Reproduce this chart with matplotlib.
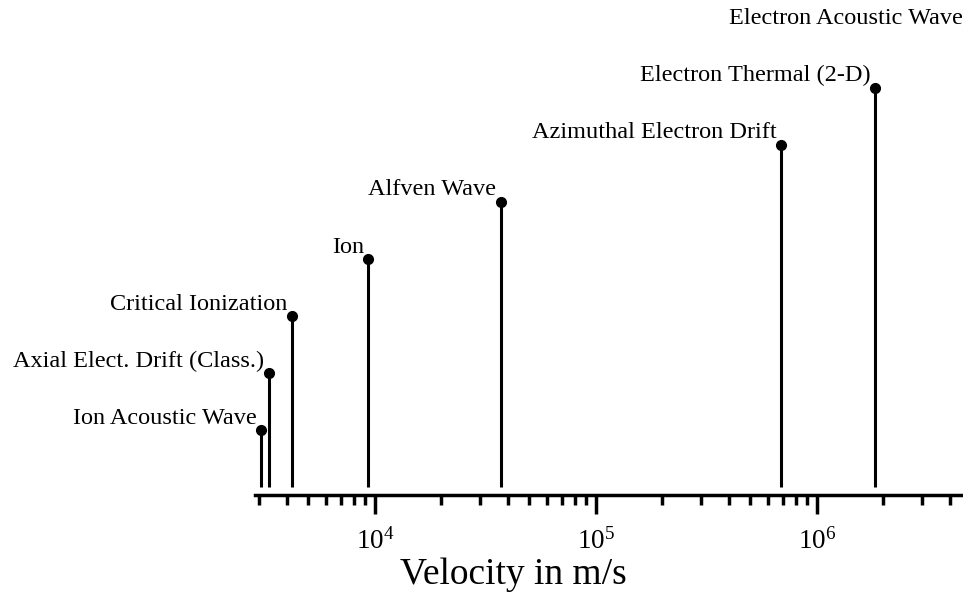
import math
import matplotlib
matplotlib.use("Agg")
import matplotlib.pyplot as plt
from matplotlib.ticker import LogLocator, FuncFormatter, NullFormatter

plt.rcParams["font.family"] = ["Liberation Serif", "DejaVu Serif"]
plt.rcParams["mathtext.fontset"] = "custom"
plt.rcParams["mathtext.rm"] = "Liberation Serif"
plt.rcParams["mathtext.it"] = "Liberation Serif:italic"

# Characteristic velocities (m/s), ordered by magnitude
labels = [
    "Ion Acoustic Wave",
    "Axial Elect. Drift (Class.)",
    "Critical Ionization",
    "Ion",
    "Alfven Wave",
    "Azimuthal Electron Drift",
    "Electron Thermal (2-D)",
    "Electron Acoustic Wave",
]
velocities = [3.06e3, 3.3e3, 4.2e3, 9.3e3, 3.7e4, 6.9e5, 1.83e6, 4.8e6]
levels = [1, 2, 3, 4, 5, 6, 7, 8]

fig = plt.figure(figsize=(9.63, 5.92), dpi=100)
ax = fig.add_axes([255 / 963, 97 / 592, 1 - 255 / 963, 495 / 592])

for v, h, name in zip(velocities, levels, labels):
    ax.plot([v, v], [0, h], color="black", lw=2.2, solid_capstyle="butt", clip_on=False)
    ax.plot(v, h, "o", color="black", ms=7, clip_on=False)
    ax.annotate(name, (v, h), xytext=(-3, 1), textcoords="offset points",
                ha="right", va="bottom", fontsize=17.5, annotation_clip=False)

ax.set_xscale("log")
ax.set_xlim(2865, 4.58e6)
ax.set_ylim(-0.14, 8.54)

for side in ("left", "right", "top"):
    ax.spines[side].set_visible(False)
ax.spines["bottom"].set_linewidth(2.5)
ax.yaxis.set_visible(False)

ax.xaxis.set_major_locator(LogLocator(base=10))
ax.xaxis.set_minor_locator(LogLocator(base=10, subs=range(2, 10)))
ax.xaxis.set_major_formatter(
    FuncFormatter(lambda x, p: r"$\mathregular{10^{%d}}$" % round(math.log10(x))))
ax.xaxis.set_minor_formatter(NullFormatter())
ax.tick_params(axis="x", which="major", direction="out", length=14, width=2.5, pad=10, labelsize=19.5)
ax.tick_params(axis="x", which="minor", direction="out", length=7, width=2.5)

fig.text(513 / 963, 1 - 575 / 592, "Velocity in m/s", ha="center", va="center", fontsize=27)

fig.savefig("out.png", dpi=100)
